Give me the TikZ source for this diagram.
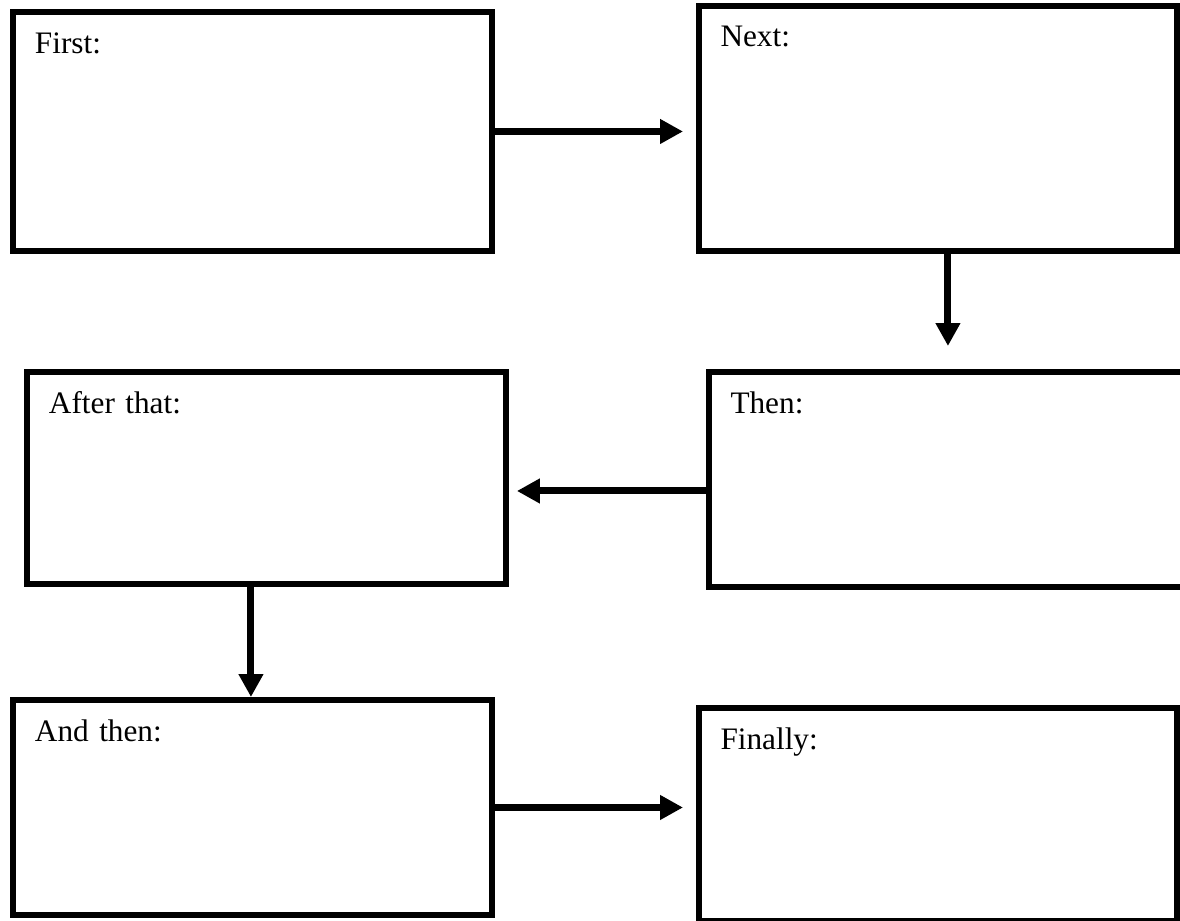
\documentclass[tikz,border=0pt]{standalone}
\usepackage{fontspec}
\setmainfont{Liberation Serif}
\usetikzlibrary{arrows.meta}

\begin{document}
\begin{tikzpicture}[
    x=0.02cm, y=-0.02cm,
    stage/.style={draw, line width=0.12cm, anchor=north west, align=left, text width=8.7cm, inner xsep=0.44cm, inner ysep=0pt, text height=0.83cm, font=\fontsize{17.8}{21}\selectfont},
    arrow/.style={-{Triangle[length=0.46cm, width=0.47cm]}, line width=0.14cm}
]
\useasboundingbox (0,0) rectangle (1180,920);
\node[stage, text depth=3.95cm] (first) at (10,9) {First:};
\node[stage, text depth=4.08cm] (next) at (695.5,2.5) {Next:};
\node[stage, text depth=3.47cm] (then) at (705.5,369) {Then:};
\node[stage, text depth=3.41cm] (after) at (24,369) {After that:};
\node[stage, text depth=3.47cm] (andthen) at (10,697) {And then:};
\node[stage, text depth=3.44cm] (finally) at (695.5,704.5) {Finally:};
\draw[arrow, shorten >=0.25cm] (first.east) -- (first.east -| next.west);
\draw[arrow, shorten >=0.46cm] ([xshift=0.2cm]next.south) -- ([xshift=0.2cm]next.south |- then.north);
\draw[arrow, shorten >=0.16cm] ([yshift=-0.23cm]then.west) -- ([yshift=-0.23cm]then.west -| after.east);
\draw[arrow] ([xshift=-0.31cm]after.south) -- ([xshift=-0.31cm]after.south |- andthen.north);
\draw[arrow, shorten >=0.25cm] (andthen.east) -- (andthen.east -| finally.west);
\end{tikzpicture}
\end{document}
